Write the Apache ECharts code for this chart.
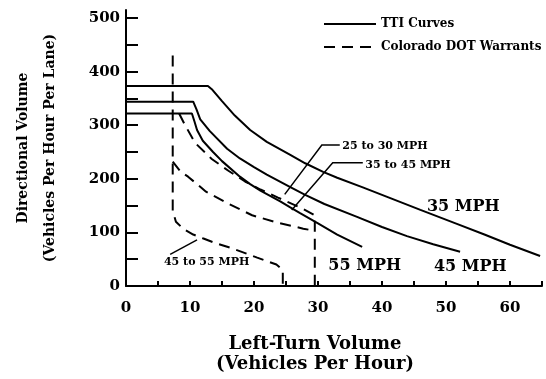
<!doctype html>
<html>
<head>
<meta charset="utf-8">
<title>Left-Turn Warrants</title>
<script src="https://cdn.jsdelivr.net/npm/echarts@6/dist/echarts.min.js"></script>
<style>
  html, body { margin: 0; padding: 0; background: #fff; }
  #container { width: 546px; height: 379px; }
</style>
</head>
<body>
<div id="container"></div>
<script type="text/javascript">
// TTI curves [left-turn volume, directional volume]
var tti35 = [[0,373],[12.8,373],[13.5,366],[15,345],[17,318],[19.4,291],[22,269],[25.6,245],[28,229],[30.8,213],[33,202],[37,184],[41.3,164],[46,142],[51.7,116],[56,96],[60,77],[64.7,56]];
var tti45 = [[0,344],[10.5,344],[11,330],[11.6,311],[13.1,289],[15.8,256],[17.8,238],[20,222],[22,208],[25.6,185],[28,170],[31,153],[36.1,129],[40,110],[43.9,93],[48,78],[52.2,64]];
var tti55 = [[0,322],[10.3,322],[10.7,307],[11.1,291],[12,271],[13.6,250],[15,233],[17.8,204],[19.4,190],[21,178],[24.1,158],[25.6,147],[27.2,136],[30,117],[33,96],[36.9,73]];

// Colorado DOT warrants
var cdot45to55 = [[7.3,430],[7.3,140],[7.8,120],[9,106],[10.5,96],[12,89],[14,80],[16.4,71],[20.5,53],[23.5,40],[24.5,30],[24.5,0]];
var cdot25to30 = [[8.3,322],[9.1,303],[10.8,267],[13.4,237],[16,215],[18.6,195],[21,180],[23.75,165],[27.5,145],[29.5,132],[29.5,0]];
var cdot35to45 = [[7.3,232],[8.5,214],[9.7,204],[12.5,176],[16.1,153],[19.7,132],[23.75,118],[27.7,107],[29.5,103]];

var xTicks = [0,5,10,15,20,25,30,35,40,45,50,55,60,65];
var xLabels = [0,10,20,30,40,50,60];
var yTicks = [0,50,100,150,200,250,300,350,400,450,500];
var yLabels = [0,100,200,300,400,500];

// annotation texts: [text, x, y]
var curveLabels = [
  ['35 MPH', 52.7, 147],
  ['45 MPH', 53.8, 35],
  ['55 MPH', 37.3, 37]
];
var warrantLabels = [
  ['25 to 30 MPH', 33.8, 261],
  ['35 to 45 MPH', 37.4, 226],
  ['45 to 55 MPH', 12.6, 44]
];
var leaders = [
  [[33.4,263],[30.6,263],[24.8,171]],
  [[37,230],[32.3,230],[25.9,142]],
  [[6.9,59],[11.1,86]]
];

var serif = '"DejaVu Serif", "Liberation Serif", serif';
var dom = document.getElementById('container');
var myChart = echarts.init(dom);

function solid(data) {
  return {
    name: 'TTI Curves', type: 'line', data: data, symbol: 'none',
    lineStyle: { color: '#000', width: 2 }, itemStyle: { color: '#000' }
  };
}
function dashed(data) {
  return {
    name: 'Colorado DOT Warrants', type: 'line', data: data, symbol: 'none',
    lineStyle: { color: '#000', width: 2, type: [11, 7] }, itemStyle: { color: '#000' }
  };
}

var option = {
  animation: false,
  backgroundColor: '#fff',
  grid: { left: 126, right: 4, top: 10, bottom: 89 },
  legend: {
    orient: 'vertical', left: 318, top: 12,
    itemWidth: 52, itemHeight: 14, itemGap: 9,
    data: ['TTI Curves', 'Colorado DOT Warrants'],
    itemStyle: { color: 'rgba(0,0,0,0)', borderWidth: 0, opacity: 0 },
    textStyle: { fontFamily: serif, fontWeight: 'bold', fontSize: 12, lineHeight: 14, color: '#000' }
  },
  xAxis: {
    type: 'value', min: 0, max: 65,
    name: 'Left-Turn Volume\n(Vehicles Per Hour)',
    nameLocation: 'middle', nameGap: 48,
    nameTextStyle: { fontFamily: serif, fontWeight: 'bold', fontSize: 18, lineHeight: 20, color: '#000', padding: [0, 38, 0, 0] },
    axisLine: { lineStyle: { color: '#000', width: 2 } },
    axisTick: { inside: true, length: 5, customValues: xTicks, lineStyle: { color: '#000', width: 2 } },
    axisLabel: { customValues: xLabels, margin: 15, fontFamily: serif, fontWeight: 'bold', fontSize: 15, color: '#000' },
    splitLine: { show: false }
  },
  yAxis: {
    type: 'value', min: 0, max: 515,
    name: 'Directional Volume\n(Vehicles Per Hour Per Lane)',
    nameLocation: 'middle', nameRotate: 90, nameGap: 62,
    nameTextStyle: { fontFamily: serif, fontWeight: 'bold', fontSize: 14, lineHeight: 27, color: '#000' },
    axisLine: { lineStyle: { color: '#000', width: 2 } },
    axisTick: { inside: true, length: 12, customValues: yTicks, lineStyle: { color: '#000', width: 2 } },
    axisLabel: { customValues: yLabels, margin: 6, fontFamily: serif, fontWeight: 'bold', fontSize: 15, color: '#000' },
    splitLine: { show: false }
  },
  series: [
    solid(tti35), solid(tti45), solid(tti55),
    dashed(cdot45to55), dashed(cdot25to30), dashed(cdot35to45)
  ]
};

myChart.setOption(option);

// annotations placed through the chart's own scales
var graphics = [];
function px(p) { return myChart.convertToPixel({ gridIndex: 0 }, p); }
curveLabels.forEach(function (l) {
  var p = px([l[1], l[2]]);
  graphics.push({ type: 'text', x: p[0], y: p[1], style: {
    text: l[0], fill: '#000', font: 'bold 16px ' + serif,
    align: 'center', verticalAlign: 'middle', textAlign: 'center', textVerticalAlign: 'middle' } });
});
warrantLabels.forEach(function (l, i) {
  var p = px([l[1], l[2]]);
  var a = i < 2 ? 'left' : 'center';
  graphics.push({ type: 'text', x: p[0], y: p[1], style: {
    text: l[0], fill: '#000', font: 'bold 11px ' + serif,
    align: a, verticalAlign: 'middle', textAlign: a, textVerticalAlign: 'middle' } });
});
leaders.forEach(function (pts) {
  graphics.push({ type: 'polyline', shape: { points: pts.map(px) },
    style: { stroke: '#000', lineWidth: 1.5, fill: null } });
});
myChart.setOption({ graphic: graphics });
</script>
</body>
</html>
